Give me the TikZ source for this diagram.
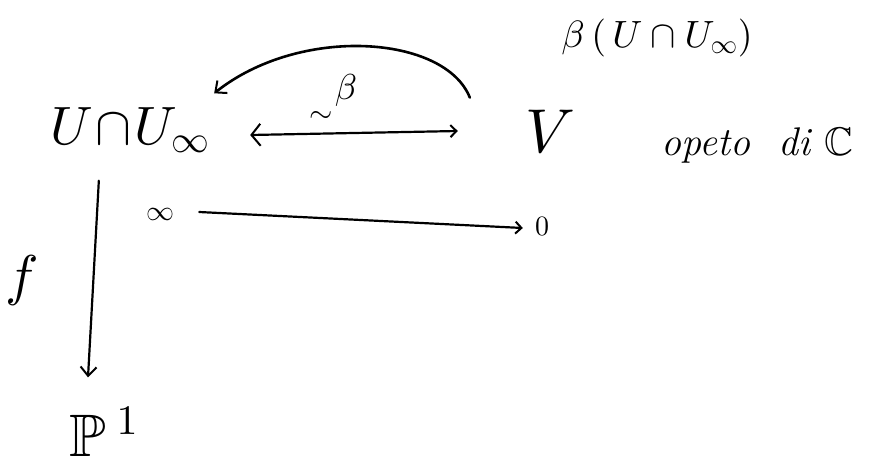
\documentclass[tikz,border=0pt]{standalone}
\usepackage{amssymb}
\DeclareFontShape{OML}{cmm}{m}{it}{<->cmmi10}{}
\DeclareFontShape{OMS}{cmsy}{m}{n}{<->cmsy10}{}
\DeclareFontShape{OT1}{cmr}{m}{n}{<->cmr10}{}
\DeclareFontShape{OT1}{cmr}{m}{it}{<->cmti10}{}
\DeclareFontShape{OMX}{cmex}{m}{n}{<->cmex10}{}
\usetikzlibrary{arrows.meta,calc}
\begin{document}
\begin{tikzpicture}[x=1pt,y=-1pt,
  lbl/.style={inner sep=0pt},
  conn/.style={line width=2.2pt, line cap=round},
  tip/.style={-{Straight Barb[length=9pt,width=16pt,line width=2pt]}}]
\useasboundingbox (0,0) rectangle (874,466);
\node[lbl] (UU) at (130,130) {\fontsize{54}{56}\selectfont $U\!\cap\! U_{\infty}$};
\node[lbl] (V) at (550,131) {\fontsize{62}{64}\selectfont $V$};
\node[lbl] (BU) at (657,38) {\fontsize{38}{40}\selectfont $\beta\,(\,U\cap U_{\infty})$};
\node[lbl] (op) at (757,145) {\fontsize{40}{42}\selectfont \textit{opeto\ \ di} $\mathbb{C}$};
\node[lbl] (beta) at (346,90) {\fontsize{36}{38}\selectfont $\beta$};
\node[lbl] (tl) at (321,117) {\fontsize{30}{32}\selectfont $\sim$};
\node[lbl] (inf) at (160,214) {\fontsize{28}{30}\selectfont $\infty$};
\node[lbl] (zero) at (542,226) {\fontsize{28}{30}\selectfont $0$};
\node[lbl] (f) at (22,280) {\fontsize{56}{58}\selectfont $f$};
\node[lbl] (P) at (104,432) {\fontsize{60}{62}\selectfont $\mathbb{P}^{\kern10pt 1}$};
% iso arrow
\draw[conn,{Straight Barb[length=9pt,width=22pt,line width=2pt]}-{Straight Barb[length=6pt,width=12pt,line width=2pt]}]
  ([shift={(40,5)}]UU.east) -- ([shift={(-67,0)}]V.west);
% curved beta arrow
\draw[conn,tip,line width=2.6pt] ([shift={(-55,-12)}]V.north west) .. controls (445,35) and (300,25) .. ([shift={(4,-14)}]UU.north east);
% infinity to zero
\draw[conn,-{Straight Barb[length=6pt,width=12pt,line width=2pt]}] ([shift={(25,-2)}]inf.east) -- ([shift={(-12,2)}]zero.west);
% f arrow
\draw[conn,tip] ([shift={(49,28)}]UU.south west) -- ([shift={(-16,-30)}]P.north);
\end{tikzpicture}
\end{document}
